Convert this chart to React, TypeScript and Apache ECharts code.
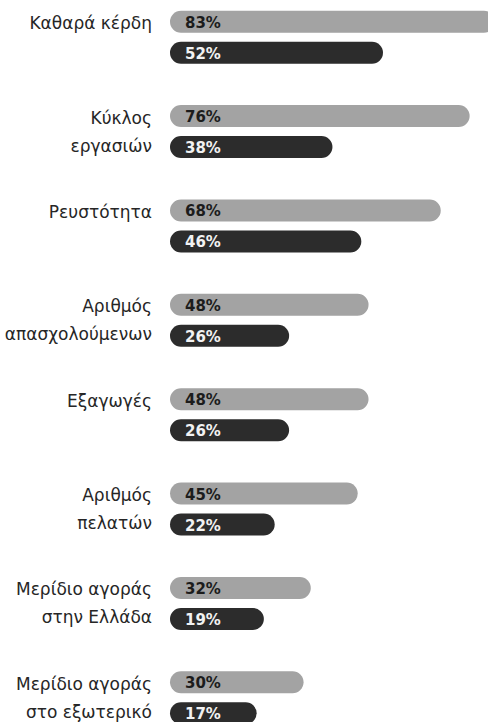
import { useEffect, useRef } from "react";
import * as echarts from "echarts";

const categories = [
  "Καθαρά κέρδη",
  "Κύκλος\nεργασιών",
  "Ρευστότητα",
  "Αριθμός\nαπασχολούμενων",
  "Εξαγωγές",
  "Αριθμός\nπελατών",
  "Μερίδιο αγοράς\nστην Ελλάδα",
  "Μερίδιο αγοράς\nστο εξωτερικό",
];
const upperValues = [83, 76, 68, 48, 48, 45, 32, 30];
const lowerValues = [52, 38, 46, 26, 26, 22, 19, 17];

const X_MIN = -7;
const X_MAX = 93;
const BAR_H = 22;
const OFFSET = 15.5;
const FONT = '"DejaVu Sans", sans-serif';

function pillSeries(name: string, values: number[], offset: number, fill: string, textFill: string) {
  return {
    type: "custom",
    name,
    clip: false,
    data: values.map((v, i) => [v, i]),
    encode: { x: 0, y: 1 },
    renderItem: (_params: any, api: any) => {
      const v = api.value(0);
      const i = api.value(1);
      const start = api.coord([X_MIN, i]);
      const end = api.coord([v, i]);
      const cy = start[1] + offset;
      return {
        type: "group",
        children: [
          {
            type: "rect",
            shape: { x: start[0], y: cy - BAR_H / 2, width: end[0] - start[0], height: BAR_H, r: BAR_H / 2 },
            style: { fill },
          },
          {
            type: "text",
            style: {
              x: start[0] + 15,
              y: cy + 1,
              text: v + "%",
              fill: textFill,
              font: `bold 15px ${FONT}`,
              align: "left",
              verticalAlign: "middle",
            },
          },
        ],
      };
    },
  };
}

export default function App() {
  const ref = useRef<HTMLDivElement>(null);
  useEffect(() => {
    if (!ref.current) return;
    const chart = echarts.init(ref.current, undefined, { renderer: "svg" });
    chart.setOption({
      animation: false,
      backgroundColor: "#ffffff",
      grid: { left: 170, top: 0, width: 361, height: 755, containLabel: false },
      xAxis: { type: "value", min: X_MIN, max: X_MAX, show: false },
      yAxis: {
        type: "category",
        data: categories,
        inverse: true,
        axisLine: { show: false },
        axisTick: { show: false },
        splitLine: { show: false },
        axisLabel: {
          margin: 18,
          color: "#262626",
          fontSize: 17,
          fontFamily: FONT,
          lineHeight: 28,
          align: "right",
          formatter: (v: string) => (v.indexOf("\n") >= 0 ? v : v + "\n"),
        },
      },
      series: [
        pillSeries("upper", upperValues, -OFFSET, "#a3a3a3", "#1c1c1c"),
        pillSeries("lower", lowerValues, OFFSET, "#2c2c2c", "#f2f2f2"),
      ],
    });
    return () => chart.dispose();
  }, []);
  return <div ref={ref} style={{ position: "fixed", left: 0, top: -10, width: 531, height: 765 }} />;
}
